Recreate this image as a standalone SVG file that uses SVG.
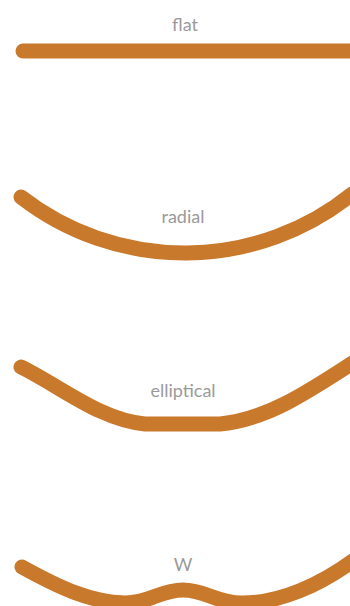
<svg xmlns="http://www.w3.org/2000/svg" width="350" height="606" viewBox="0 0 350 606">
<style>
.c{fill:none;stroke:#c9792b;stroke-width:15;stroke-linecap:round;stroke-linejoin:round}
.t{font-family:"Lato","DejaVu Sans",sans-serif;font-size:18px;fill:#9a9a9a;text-anchor:middle}
</style>
<rect width="350" height="606" fill="#fff"/>
<g id="flat">
<text class="t" x="185" y="31">flat</text>
<path class="c" d="M23,51 L360,51"/>
</g>
<g id="radial">
<text class="t" x="183" y="223">radial</text>
<path class="c" d="M21,197 A267 267 0 0 0 352,194"/>
</g>
<g id="elliptical">
<text class="t" x="183" y="397">elliptical</text>
<path class="c" d="M21,367 C60,386 100,420 145,424 L220,424 C265,420 305,394 354,362"/>
</g>
<g id="w">
<text class="t" x="183" y="571">W</text>
<path class="c" d="M22,567 C60,588 90,602 125,603 C150,603 160,590 183,590 C206,590 216,603 242,603 C280,603 320,585 354,560"/>
</g>
</svg>
